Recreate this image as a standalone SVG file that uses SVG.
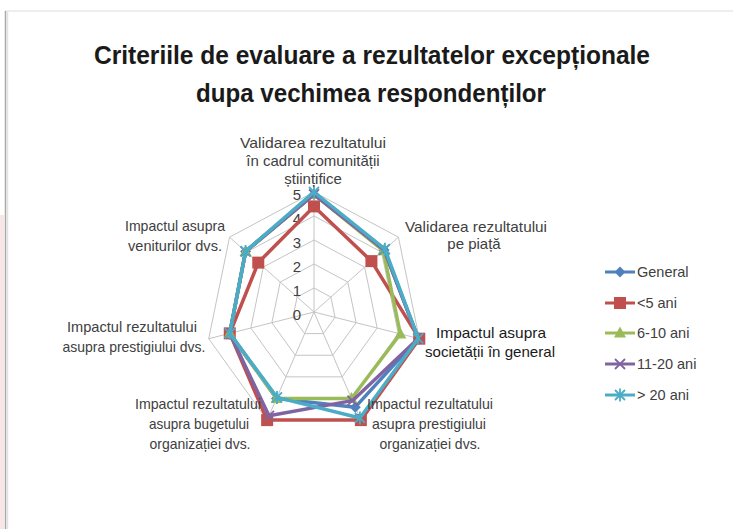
<svg xmlns="http://www.w3.org/2000/svg" width="733" height="529" viewBox="0 0 733 529">
<style>
.lbl{font-family:"Liberation Sans",Arial,sans-serif;font-size:15px;fill:#404040;text-anchor:middle}
.lbl2{font-family:"Liberation Sans",Arial,sans-serif;font-size:14.5px;fill:#404040;text-anchor:middle}
.tick{font-family:"Liberation Sans",Arial,sans-serif;font-size:15px;fill:#404040;text-anchor:end}
.ttl{font-family:"Liberation Sans",Arial,sans-serif;font-size:26px;font-weight:bold;fill:#1a1a1a;text-anchor:middle}
.leg{font-family:"Liberation Sans",Arial,sans-serif;font-size:14.5px;fill:#404040}
.grid{fill:none;stroke:#c4c4c4;stroke-width:1}
.ser{fill:none;stroke-width:3.5;stroke-linejoin:round}
</style>
<defs>
<marker id="mk-dia" viewBox="-7 -7 14 14" markerWidth="14" markerHeight="14" markerUnits="userSpaceOnUse" refX="0" refY="0"><path d="M0,-5.5 L5.5,0 L0,5.5 L-5.5,0 Z" fill="#4F81BD"/></marker>
<marker id="mk-sq" viewBox="-7 -7 14 14" markerWidth="14" markerHeight="14" markerUnits="userSpaceOnUse" refX="0" refY="0"><rect x="-6" y="-6" width="12" height="12" fill="#C0504D"/></marker>
<marker id="mk-tri" viewBox="-7 -7 14 14" markerWidth="14" markerHeight="14" markerUnits="userSpaceOnUse" refX="0" refY="0"><path d="M0,-6.5 L6,4.5 L-6,4.5 Z" fill="#9BBB59"/></marker>
<marker id="mk-x" viewBox="-7 -7 14 14" markerWidth="14" markerHeight="14" markerUnits="userSpaceOnUse" refX="0" refY="0"><path d="M-5,-5 L5,5 M-5,5 L5,-5" stroke="#8064A2" stroke-width="1.8" fill="none"/></marker>
<marker id="mk-star" viewBox="-7 -7 14 14" markerWidth="14" markerHeight="14" markerUnits="userSpaceOnUse" refX="0" refY="0"><path d="M-5,-5 L5,5 M-5,5 L5,-5 M0,-6.5 L0,6.5" stroke="#4BACC6" stroke-width="1.8" fill="none"/></marker>
</defs>
<rect x="0" y="0" width="733" height="529" fill="#ffffff"/>
<g id="frame">
<rect x="0" y="215" width="4" height="314" fill="#f8e6e6"/>
<line x1="5" y1="11" x2="733" y2="11" stroke="#dcdcdc" stroke-width="1"/>
<line x1="5.5" y1="11" x2="5.5" y2="529" stroke="#a8a8a8" stroke-width="1.5"/>
<line x1="7.5" y1="12" x2="7.5" y2="529" stroke="#e2e2e2" stroke-width="1.5"/>
</g>
<g id="title">
<text class="ttl" x="372" y="64" textLength="556" lengthAdjust="spacingAndGlyphs">Criteriile de evaluare a rezultatelor excepționale</text>
<text class="ttl" x="371" y="102" textLength="350" lengthAdjust="spacingAndGlyphs">dupa vechimea respondenților</text>
</g>
<g id="grid">
<polygon class="grid" points="314,192 398.44,237.18 419.29,338.7 360.86,420.12 267.14,420.12 208.71,338.7 229.56,237.18"/>
<polygon class="grid" points="314,216 381.55,252.14 398.23,333.36 351.49,398.49 276.51,398.49 229.77,333.36 246.45,252.14"/>
<polygon class="grid" points="314,240 364.66,267.11 377.17,328.02 342.12,376.87 285.88,376.87 250.83,328.02 263.34,267.11"/>
<polygon class="grid" points="314,264 347.78,282.07 356.12,322.68 332.74,355.25 295.26,355.25 271.88,322.68 280.22,282.07"/>
<polygon class="grid" points="314,288 330.89,297.04 335.06,317.34 323.37,333.62 304.63,333.62 292.94,317.34 297.11,297.04"/>
<path class="grid" d="M314,312 L314,192 M314,312 L398.44,237.18 M314,312 L419.29,338.7 M314,312 L360.86,420.12 M314,312 L267.14,420.12 M314,312 L208.71,338.7 M314,312 L229.56,237.18"/>
</g>
<g id="ticks">
<text class="tick" x="301" y="319.5">0</text>
<text class="tick" x="301" y="295.5">1</text>
<text class="tick" x="301" y="271.5">2</text>
<text class="tick" x="301" y="247.5">3</text>
<text class="tick" x="301" y="223.5">4</text>
<text class="tick" x="301" y="199.5">5</text>
</g>
<g id="connectors">
<polygon id="s-general" class="ser" stroke="#4F81BD" marker-start="url(#mk-dia)" marker-mid="url(#mk-dia)" points="314,194.4 384.09,249.9 418.24,338.43 355.24,407.14 276.51,398.49 229.77,333.36 245.6,251.4"/>
<polygon id="s-lt5" class="ser" stroke="#C0504D" marker-start="url(#mk-sq)" marker-mid="url(#mk-sq)" points="314,206.4 371.42,261.12 419.29,338.7 360.86,420.12 267.14,420.12 229.77,333.36 258.27,262.62"/>
<polygon id="s-6-10" class="ser" stroke="#9BBB59" marker-start="url(#mk-tri)" marker-mid="url(#mk-tri)" points="314,194.4 383.24,250.65 400.34,333.89 351.49,398.49 276.51,398.49 229.77,333.36 245.6,251.4"/>
<polygon id="s-11-20" class="ser" stroke="#8064A2" marker-start="url(#mk-x)" marker-mid="url(#mk-x)" points="314,194.4 384.09,249.9 418.24,338.43 352.43,400.65 269.01,415.79 229.77,333.36 245.6,251.4"/>
<polygon id="s-gt20" class="ser" stroke="#4BACC6" marker-start="url(#mk-star)" marker-mid="url(#mk-star)" points="314,192 384.93,249.15 418.24,338.43 359.92,417.95 276.98,397.41 229.77,333.36 245.6,251.4"/>
</g>
<g id="label-validare-comunitate">
<text class="lbl" x="313" y="148" textLength="146" lengthAdjust="spacingAndGlyphs">Validarea rezultatului</text>
<text class="lbl" x="313" y="166">în cadrul comunității</text>
<text class="lbl" x="313" y="184">științifice</text>
</g>
<g id="label-validare-piata">
<text class="lbl" x="476" y="232" textLength="142" lengthAdjust="spacingAndGlyphs">Validarea rezultatului</text>
<text class="lbl" x="474" y="249">pe piață</text>
</g>
<g id="label-societate">
<text class="lbl" x="491" y="338" style="fill:#1a1a1a" textLength="110" lengthAdjust="spacingAndGlyphs">Impactul asupra</text>
<text class="lbl" x="490" y="357" style="fill:#1a1a1a" textLength="130" lengthAdjust="spacingAndGlyphs">societății în general</text>
</g>
<g id="label-prestigiu-organizatie">
<text class="lbl2" x="430" y="409" textLength="126" lengthAdjust="spacingAndGlyphs">Impactul rezultatului</text>
<text class="lbl2" x="429" y="429" textLength="114" lengthAdjust="spacingAndGlyphs">asupra prestigiului</text>
<text class="lbl2" x="430" y="449" textLength="101" lengthAdjust="spacingAndGlyphs">organizației dvs.</text>
</g>
<g id="label-buget">
<text class="lbl2" x="198" y="409" textLength="126" lengthAdjust="spacingAndGlyphs">Impactul rezultatului</text>
<text class="lbl2" x="199" y="429" textLength="100" lengthAdjust="spacingAndGlyphs">asupra bugetului</text>
<text class="lbl2" x="200" y="449" textLength="101" lengthAdjust="spacingAndGlyphs">organizației dvs.</text>
</g>
<g id="label-prestigiu-dvs">
<text class="lbl2" x="132" y="332" textLength="130" lengthAdjust="spacingAndGlyphs">Impactul rezultatului</text>
<text class="lbl2" x="134" y="352" textLength="143" lengthAdjust="spacingAndGlyphs">asupra prestigiului dvs.</text>
</g>
<g id="label-venituri">
<text class="lbl2" x="175" y="231" textLength="100" lengthAdjust="spacingAndGlyphs">Impactul asupra</text>
<text class="lbl2" x="175" y="251" textLength="94" lengthAdjust="spacingAndGlyphs">veniturilor dvs.</text>
</g>
<g id="legend">
<path d="M605,272 L620,272 L635,272" stroke="#4F81BD" stroke-width="3" fill="none" marker-mid="url(#mk-dia)"/>
<text class="leg" x="637" y="277">General</text>
<path d="M605,303 L620,303 L635,303" stroke="#C0504D" stroke-width="3" fill="none" marker-mid="url(#mk-sq)"/>
<text class="leg" x="637" y="308">&lt;5 ani</text>
<path d="M605,333 L620,333 L635,333" stroke="#9BBB59" stroke-width="3" fill="none" marker-mid="url(#mk-tri)"/>
<text class="leg" x="637" y="338">6-10 ani</text>
<path d="M605,364 L620,364 L635,364" stroke="#8064A2" stroke-width="3" fill="none" marker-mid="url(#mk-x)"/>
<text class="leg" x="637" y="369">11-20 ani</text>
<path d="M605,395 L620,395 L635,395" stroke="#4BACC6" stroke-width="3" fill="none" marker-mid="url(#mk-star)"/>
<text class="leg" x="637" y="400">&gt; 20 ani</text>
</g>
</svg>
